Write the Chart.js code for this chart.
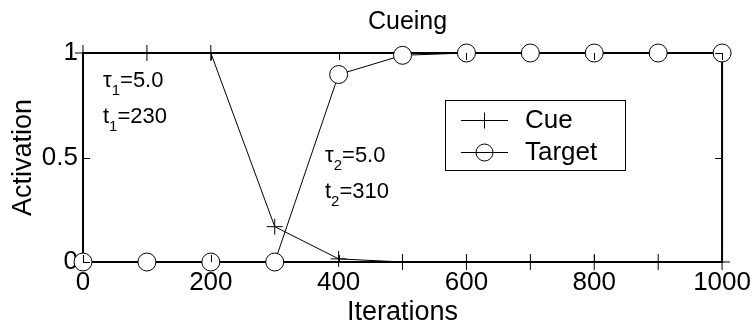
<!DOCTYPE html>
<html>
<head>
<meta charset="utf-8">
<script src="https://cdn.jsdelivr.net/npm/chart.js@4/dist/chart.umd.min.js"></script>
<style>
    html, body { margin: 0; padding: 0; background: #fff; }
    #wrap { width: 756px; height: 323px; position: relative; }
</style>
</head>
<body>
<div id="wrap"><canvas id="cueingChart"></canvas></div>
<script>
// Cueing chart: cue / target activation against iterations

const iterations = [0, 100, 200, 300, 400, 500, 600, 700, 800, 900, 1000];
const cueValues = [1, 1, 1, 0.169, 0.015, 0, 0, 0, 0, 0, 0];
const targetValues = [0, 0, 0, 0, 0.897, 0.989, 1, 1, 1, 1, 1];
const xTicks = [0, 200, 400, 600, 800, 1000];
const yTicks = [0, 0.5, 1];
const seriesNames = ['Cue', 'Target'];

const FONT = "'Liberation Sans', Arial, Helvetica, sans-serif";

function toPoints(values) {
    return iterations.map((it, i) => ({ x: it, y: values[i] }));
}

// draw "base" + subscript + rest, e.g. τ₁=5.0
function drawSubText(ctx, x, y, base, sub, rest) {
    ctx.font = '22px ' + FONT;
    ctx.fillText(base, x, y);
    x += ctx.measureText(base).width;
    ctx.font = '15px ' + FONT;
    ctx.fillText(sub, x, y + 8);
    x += ctx.measureText(sub).width;
    ctx.font = '22px ' + FONT;
    ctx.fillText(rest, x, y);
}

// frame drawn under the data, ticks / text on top
const framePlugin = {
    id: 'frame',
    beforeDatasetsDraw(chart) {
        const { ctx, chartArea: a } = chart;
        ctx.save();
        ctx.strokeStyle = '#000';
        ctx.lineWidth = 2;
        ctx.strokeRect(a.left, a.top, a.right - a.left, a.bottom - a.top);
        ctx.restore();
    },
    afterDatasetsDraw(chart) {
        const { ctx, chartArea: a, scales } = chart;
        const x = scales.x, y = scales.y;
        ctx.save();
        ctx.strokeStyle = '#000';
        ctx.lineWidth = 1;
        ctx.beginPath();
        xTicks.forEach(v => {
            const px = Math.round(x.getPixelForValue(v)) + 0.5;
            ctx.moveTo(px, a.bottom);
            ctx.lineTo(px, a.bottom - 7);
            ctx.moveTo(px, a.top);
            ctx.lineTo(px, a.top + 7);
        });
        yTicks.forEach(v => {
            const py = Math.round(y.getPixelForValue(v)) + 0.5;
            ctx.moveTo(a.left, py);
            ctx.lineTo(a.left + 7, py);
            ctx.moveTo(a.right, py);
            ctx.lineTo(a.right - 7, py);
        });
        ctx.stroke();

        // title
        ctx.fillStyle = '#000';
        ctx.font = '25px ' + FONT;
        ctx.textAlign = 'center';
        ctx.textBaseline = 'alphabetic';
        ctx.fillText('Cueing', (a.left + a.right) / 2 + 5, 29);

        // annotations
        ctx.textAlign = 'left';
        drawSubText(ctx, 103, 87, 'τ', '1', '=5.0');
        drawSubText(ctx, 103, 123, 't', '1', '=230');
        drawSubText(ctx, 325, 162, 'τ', '2', '=5.0');
        drawSubText(ctx, 325, 198, 't', '2', '=310');

        // legend
        ctx.lineWidth = 1;
        ctx.strokeRect(445.5, 100.5, 180, 70);
        const rows = [120, 152];
        chart.data.datasets.forEach((ds, i) => {
            const ry = rows[i] + 0.5;
            ctx.beginPath();
            ctx.moveTo(461, ry);
            ctx.lineTo(508, ry);
            ctx.stroke();
            ctx.beginPath();
            if (ds.pointStyle === 'cross') {
                ctx.moveTo(484.5, ry - 8);
                ctx.lineTo(484.5, ry + 8);
                ctx.moveTo(476, ry);
                ctx.lineTo(492, ry);
            } else {
                ctx.arc(484.5, ry, 8.5, 0, Math.PI * 2);
            }
            ctx.stroke();
            ctx.font = '26px ' + FONT;
            ctx.textBaseline = 'middle';
            ctx.fillText(seriesNames[i], 525, rows[i] + 1);
        });
        ctx.restore();
    }
};

new Chart(document.getElementById('cueingChart'), {
    type: 'line',
    data: {
        datasets: [
            {
                label: seriesNames[0],
                data: toPoints(cueValues),
                borderColor: '#000',
                borderWidth: 1,
                pointStyle: 'cross',
                pointRadius: 8,
                pointBorderColor: '#000',
                pointBorderWidth: 1,
                tension: 0,
                clip: false
            },
            {
                label: seriesNames[1],
                data: toPoints(targetValues),
                borderColor: '#000',
                borderWidth: 1,
                pointStyle: 'circle',
                pointRadius: 9,
                pointBorderColor: '#000',
                pointBackgroundColor: '#fff',
                pointBorderWidth: 1,
                tension: 0,
                clip: false
            }
        ]
    },
    options: {
        responsive: true,
        maintainAspectRatio: false,
        animation: false,
        layout: { padding: { top: 53, right: 33, left: 0, bottom: 0 } },
        plugins: {
            legend: { display: false },
            title: { display: false },
            tooltip: { enabled: false }
        },
        scales: {
            x: {
                type: 'linear',
                min: 0,
                max: 1000,
                afterBuildTicks: s => { s.ticks = xTicks.map(v => ({ value: v })); },
                afterFit: s => { s.height = 61; },
                grid: { display: false, drawTicks: false },
                border: { display: false },
                ticks: {
                    color: '#000',
                    padding: 5,
                    maxRotation: 0,
                    autoSkip: false,
                    font: { family: FONT, size: 26, lineHeight: 1.2 },
                    callback: v => String(v)
                },
                title: {
                    display: true,
                    text: 'Iterations',
                    color: '#000',
                    padding: { top: 0, bottom: -3 },
                    font: { family: FONT, size: 27, lineHeight: 1 }
                }
            },
            y: {
                type: 'linear',
                min: 0,
                max: 1,
                afterBuildTicks: s => { s.ticks = yTicks.map(v => ({ value: v })); },
                afterFit: s => { s.width = 83; },
                grid: { display: false, drawTicks: false },
                border: { display: false },
                ticks: {
                    color: '#000',
                    padding: 5,
                    autoSkip: false,
                    font: { family: FONT, size: 26 },
                    callback: v => String(v)
                },
                title: {
                    display: true,
                    text: 'Activation',
                    color: '#000',
                    padding: { top: 10, bottom: 0 },
                    font: { family: FONT, size: 27, lineHeight: 1 }
                }
            }
        }
    },
    plugins: [framePlugin]
});
</script>
</body>
</html>
